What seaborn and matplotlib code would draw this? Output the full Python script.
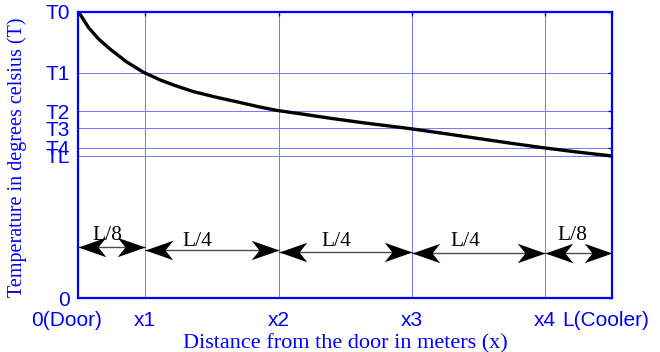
import matplotlib
matplotlib.use("Agg")
import matplotlib.pyplot as plt
from matplotlib.path import Path
from matplotlib.transforms import ScaledTranslation
import seaborn as sns
import pandas as pd

# curve (x in units of L/8, T on a 0..10 scale)
dist = [0, 0.15, 0.3, 0.47, 0.72, 0.97, 1.22, 1.45, 1.72, 2.07, 2.4, 2.7,
        2.98, 3.37, 3.77, 4.27, 4.96, 5.47, 5.97, 6.47, 6.96, 7.47, 8]
temp = [10, 9.45, 9.05, 8.70, 8.25, 7.89, 7.62, 7.42, 7.21, 7.01, 6.84, 6.68,
        6.55, 6.42, 6.28, 6.12, 5.92, 5.75, 5.58, 5.41, 5.25, 5.10, 4.96]

x_ticks = [0, 1, 3, 5, 7, 8]
x_labels = ['0(Door)', 'x1', 'x2', 'x3', 'x4', 'L(Cooler)']
y_ticks = [0, 4.96, 5.25, 5.93, 6.53, 7.87, 10]
y_labels = ['0', 'TL', 'T4', 'T3', 'T2', 'T1', 'T0']

# segment arrows
seg_start = [0, 1, 3, 5, 7]
seg_end = [1, 3, 5, 7, 8]
seg_y = [1.79, 1.68, 1.62, 1.57, 1.56]
seg_text = ['L/8', 'L/4', 'L/4', 'L/4', 'L/8']
seg_text_x = [0.43, 1.78, 3.86, 5.8, 7.4]
seg_text_y = [2.17, 1.96, 1.96, 1.96, 2.17]

df = pd.DataFrame({'x': dist, 'T': temp})

sns.set_style('white')
blue = '#0000ff'

fig = plt.figure(figsize=(6.6, 3.52), dpi=100)
ax = fig.add_axes([0.1189, 0.1534, 0.8084, 0.8134])

sns.lineplot(data=df, x='x', y='T', ax=ax, color='black', linewidth=2.4)

ax.set_xlim(0, 8)
ax.set_ylim(0, 10)
ax.set_xticks(x_ticks)
ax.set_xticklabels(x_labels, fontfamily='Liberation Sans', fontsize=15, color=blue)
ax.set_yticks(y_ticks)
ax.set_yticklabels(y_labels, fontfamily='Liberation Sans', fontsize=15, color=blue)
ax.tick_params(direction='in', top=True, right=True, length=3, width=1,
               color=blue, pad=6)
ax.tick_params(axis='x', pad=9)

# end labels sit a little to the left in the original
lbls = ax.get_xticklabels()
lbls[0].set_transform(lbls[0].get_transform() + ScaledTranslation(-0.12, 0, fig.dpi_scale_trans))
lbls[-1].set_transform(lbls[-1].get_transform() + ScaledTranslation(-0.06, 0, fig.dpi_scale_trans))

ax.grid(True, color='#7575ff', linewidth=0.7, linestyle='-')
for sp in ax.spines.values():
    sp.set_color(blue)
    sp.set_linewidth(1.6)

ax.set_xlabel('Distance from the door in meters (x)', fontfamily='Liberation Serif',
              fontsize=16, color=blue, labelpad=3)
ax.set_ylabel('Temperature in degrees celsius (T)', fontfamily='Liberation Serif',
              fontsize=14.5, color=blue)
ax.yaxis.set_label_coords(-0.097, 0.49)

# notched arrow heads
head_r = Path([(0, 0), (-1, 0.35), (-0.72, 0), (-1, -0.35), (0, 0)],
              [Path.MOVETO, Path.LINETO, Path.LINETO, Path.LINETO, Path.CLOSEPOLY])
head_l = Path([(0, 0), (1, 0.35), (0.72, 0), (1, -0.35), (0, 0)],
              [Path.MOVETO, Path.LINETO, Path.LINETO, Path.LINETO, Path.CLOSEPOLY])

for a, b, y in zip(seg_start, seg_end, seg_y):
    ax.plot([a, b], [y, y], color='0.3', lw=1.0, clip_on=False)
    ax.plot([a], [y], marker=head_l, markersize=40, color='black', mew=0, clip_on=False)
    ax.plot([b], [y], marker=head_r, markersize=40, color='black', mew=0, clip_on=False)

for t, tx, ty in zip(seg_text, seg_text_x, seg_text_y):
    ax.text(tx, ty, t, fontfamily='Liberation Serif', fontsize=15.5,
            color='black', ha='center', va='center')

fig.savefig('out.png', dpi=100)
